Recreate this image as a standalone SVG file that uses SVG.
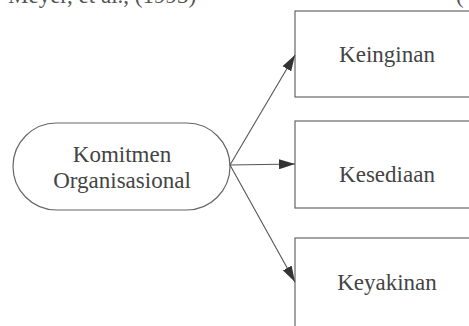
<svg xmlns="http://www.w3.org/2000/svg" width="469" height="326" viewBox="0 0 469 326">
  <defs>
    <marker id="arrow" viewBox="0 0 16 10" refX="16" refY="5" markerWidth="16" markerHeight="10" markerUnits="userSpaceOnUse" orient="auto">
      <path d="M0,0 L16,5 L0,10 Z" fill="#333"/>
    </marker>
  </defs>
  <style>
    .shape { fill: #fff; stroke: #666; stroke-width: 1.2; }
    .label { font-family: "Liberation Serif", "Times New Roman", serif; font-size: 23px; fill: #444; text-anchor: middle; }
    .caption { font-family: "Liberation Serif", "Times New Roman", serif; font-size: 23px; fill: #555; }
    .link { stroke: #555; stroke-width: 1.1; fill: none; }
  </style>
  <rect width="469" height="326" fill="#fff"/>

  <!-- running text line cut at the top edge -->
  <text class="caption" x="8" y="3">Meyer, et al., (1993)</text>
  <text class="caption" x="456" y="3">(</text>

  <g id="komitmen">
    <rect class="shape" x="13" y="123" width="217" height="87" rx="43.5" ry="43.5"/>
    <text class="label" x="122" y="162">Komitmen</text>
    <text class="label" x="122" y="188">Organisasional</text>
  </g>

  <g id="keinginan">
    <rect class="shape" x="295" y="11" width="190" height="86"/>
    <text class="label" x="387" y="62">Keinginan</text>
  </g>

  <g id="kesediaan">
    <rect class="shape" x="295" y="121" width="190" height="87"/>
    <text class="label" x="387" y="182">Kesediaan</text>
  </g>

  <g id="keyakinan">
    <rect class="shape" x="295" y="238" width="190" height="100"/>
    <text class="label" x="387" y="290">Keyakinan</text>
  </g>

  <g id="connectors">
    <line class="link" x1="230" y1="165" x2="295" y2="55" marker-end="url(#arrow)"/>
    <line class="link" x1="230" y1="165" x2="295" y2="164" marker-end="url(#arrow)"/>
    <line class="link" x1="230" y1="165" x2="295" y2="282" marker-end="url(#arrow)"/>
  </g>
</svg>
